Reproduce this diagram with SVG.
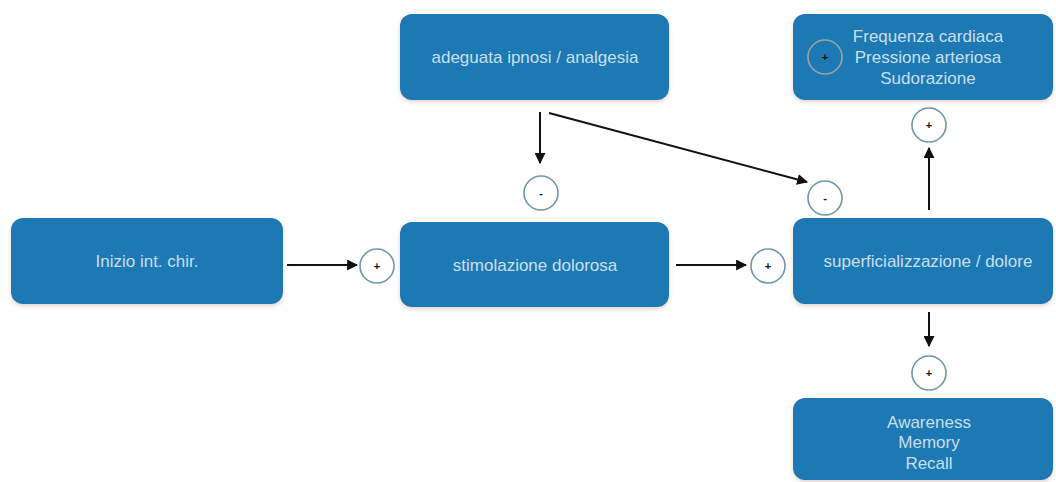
<svg xmlns="http://www.w3.org/2000/svg" width="1056" height="482" viewBox="0 0 1056 482">
<defs>
<marker id="ah" viewBox="0 0 10 10" refX="9" refY="5" markerWidth="11" markerHeight="11" markerUnits="userSpaceOnUse" orient="auto">
<path d="M0,0 L10,5 L0,10 z" fill="#111"/>
</marker>
<filter id="sh" x="-10%" y="-10%" width="120%" height="130%">
<feDropShadow dx="0" dy="2" stdDeviation="2" flood-color="#b08070" flood-opacity="0.35"/>
</filter>
</defs>
<style>
.box{fill:#1a79b4;filter:url(#sh)}
.t{font-family:"Liberation Sans",Arial,sans-serif;font-size:17px;fill:#cadfed;text-anchor:middle}
.c{fill:#fff;stroke:#6f97aa;stroke-width:1.6}
.cs{font-family:"Liberation Sans",Arial,sans-serif;font-size:11px;fill:#111;text-anchor:middle;font-weight:bold}
.ln{stroke:#111;stroke-width:2;fill:none;marker-end:url(#ah)}
</style>
<rect width="1056" height="482" fill="#fff"/>
<g id="n-adeguata">
<rect class="box" x="400" y="14" width="269" height="86" rx="12"/>
<text class="t" x="535" y="63">adeguata ipnosi / analgesia</text>
</g>
<g id="n-parametri">
<rect class="box" x="793" y="14" width="260" height="86" rx="12"/>
<circle cx="825" cy="57" r="17" fill="none" stroke="#a0a0a0" stroke-width="1.6"/>
<text class="cs" x="825" y="61">+</text>
<text class="t" x="928" y="42">Frequenza cardiaca</text>
<text class="t" x="928" y="63">Pressione arteriosa</text>
<text class="t" x="928" y="84">Sudorazione</text>
</g>
<g id="n-inizio">
<rect class="box" x="11" y="218" width="272" height="86" rx="12"/>
<text class="t" x="147" y="267">Inizio int. chir.</text>
</g>
<g id="n-stimolazione">
<rect class="box" x="400" y="222" width="269" height="85" rx="12"/>
<text class="t" x="535" y="271">stimolazione dolorosa</text>
</g>
<g id="n-superficializzazione">
<rect class="box" x="793" y="218" width="260" height="86" rx="12"/>
<text class="t" x="928" y="267">superficializzazione / dolore</text>
</g>
<g id="n-awareness">
<rect class="box" x="793" y="398" width="260" height="82" rx="12"/>
<text class="t" x="929" y="428">Awareness</text>
<text class="t" x="929" y="448">Memory</text>
<text class="t" x="929" y="469">Recall</text>
</g>
<g id="signs">
<circle class="c" cx="377" cy="266" r="17"/><text class="cs" x="377" y="270">+</text>
<circle class="c" cx="768" cy="266" r="17"/><text class="cs" x="768" y="270">+</text>
<circle class="c" cx="541" cy="193" r="17"/><text class="cs" x="541" y="197">-</text>
<circle class="c" cx="825" cy="198" r="17"/><text class="cs" x="825" y="202">-</text>
<circle class="c" cx="929" cy="125" r="17"/><text class="cs" x="929" y="129">+</text>
<circle class="c" cx="929" cy="373" r="17"/><text class="cs" x="929" y="377">+</text>
</g>
<g id="connectors">
<line class="ln" x1="287" y1="265" x2="357" y2="265"/>
<line class="ln" x1="676" y1="265" x2="746" y2="265"/>
<line class="ln" x1="540" y1="112" x2="540" y2="163"/>
<line class="ln" x1="549" y1="113" x2="807" y2="182"/>
<line class="ln" x1="929" y1="210" x2="929" y2="148"/>
<line class="ln" x1="929" y1="312" x2="929" y2="346"/>
</g>
</svg>
